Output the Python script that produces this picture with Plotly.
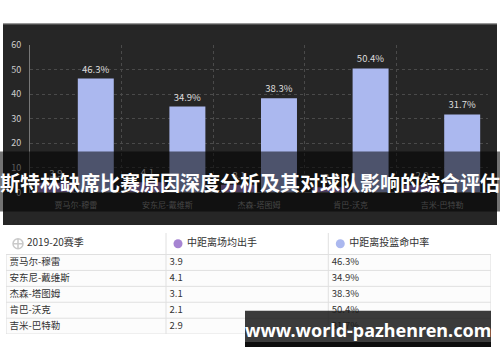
import plotly.graph_objects as go

# ---- data ----
players = ["贾马尔-穆雷", "安东尼-戴维斯", "杰森-塔图姆", "肯巴-沃克", "吉米-巴特勒"]
attempts = [3.9, 4.1, 3.1, 2.1, 2.9]
fg_pct = [46.3, 34.9, 38.3, 50.4, 31.7]
season_label = "2019-20赛季"
series_attempts = "中距离场均出手"
series_pct = "中距离投篮命中率"
y_ticks = [0, 10, 20, 30, 40, 50, 60]
title_text = "斯特林缺席比赛原因深度分析及其对球队影响的综合评估"
watermark = "www.world-pazhenren.com"

W, H = 500, 362
FONT = "Noto Sans CJK SC, Noto Sans, sans-serif"
PURPLE = "#a684d2"
BLUE = "#abb8ef"


def px(x):
    return x / W


def py(y):
    return 1 - y / H


fig = go.Figure()

# ---- bar chart ----
fig.add_trace(go.Bar(
    x=players, y=attempts, name=series_attempts,
    marker=dict(color=PURPLE, line=dict(width=0)),
    text=[str(v) for v in attempts], textposition="outside",
    textfont=dict(size=9.5, color="#dddddd", family=FONT),
    cliponaxis=False, hoverinfo="skip",
    xaxis="x", yaxis="y",
))
fig.add_trace(go.Bar(
    x=players, y=fg_pct, name=series_pct,
    marker=dict(color=BLUE, line=dict(width=0)),
    text=[f"{v}%" for v in fg_pct], textposition="outside",
    textfont=dict(size=9.5, color="#dddddd", family=FONT),
    cliponaxis=False, hoverinfo="skip",
    xaxis="x", yaxis="y",
))

# ---- table (drawn on a second subplot) ----
TW = 485.0
HEADER_H = 22.4
ROW_H = 16.5
TH = HEADER_H + ROW_H * len(players)
col_starts = [0.0, 160.0, 322.3]
row_centers = [HEADER_H + ROW_H * (i + 0.5) for i in range(len(players))]
columns = [players, [str(v) for v in attempts], [f"{v}%" for v in fg_pct]]

for ci, vals in enumerate(columns):
    fig.add_trace(go.Scatter(
        x=[col_starts[ci] + 3.5] * len(vals), y=row_centers,
        mode="text", text=vals, textposition="middle right",
        textfont=dict(size=9.5, color="#333333", family=FONT),
        hoverinfo="skip", xaxis="x2", yaxis="y2", showlegend=False,
    ))

headers = [season_label, series_attempts, series_pct]
icon_colors = ["#c9c9c9", PURPLE, BLUE]
icon_symbols = ["circle-cross-open", "circle", "circle"]
for ci, htxt in enumerate(headers):
    fig.add_trace(go.Scatter(
        x=[col_starts[ci] + 12], y=[HEADER_H / 2], mode="markers",
        marker=dict(size=9 if ci else 10, color=icon_colors[ci], symbol=icon_symbols[ci],
                    line=dict(width=1.5 if ci == 0 else 0, color=icon_colors[ci])),
        hoverinfo="skip", xaxis="x2", yaxis="y2", showlegend=False,
    ))
    fig.add_trace(go.Scatter(
        x=[col_starts[ci] + 21], y=[HEADER_H / 2], mode="text", text=[htxt],
        textposition="middle right",
        textfont=dict(size=10, color="#333333", family=FONT),
        hoverinfo="skip", xaxis="x2", yaxis="y2", showlegend=False,
    ))

shapes = []
# dark chart panel
shapes.append(dict(type="rect", xref="paper", yref="paper", x0=px(3), x1=px(497),
                   y0=py(226), y1=py(17), fillcolor="#262626", line=dict(width=0), layer="below"))
shapes.append(dict(type="line", xref="paper", yref="paper", x0=px(3), x1=px(497),
                   y0=py(17.5), y1=py(17.5), line=dict(color="#9a9a9a", width=1), layer="below"))

# table background and grid
shapes.append(dict(type="rect", xref="x2", yref="y2", x0=0, x1=TW, y0=0, y1=TH,
                   fillcolor="#fcfcfc", line=dict(color="#dcdcdc", width=1), layer="below"))
shapes.append(dict(type="rect", xref="x2", yref="y2", x0=0, x1=TW, y0=0, y1=HEADER_H,
                   fillcolor="#ffffff", line=dict(width=0), layer="below"))
for i in range(len(players)):
    yb = HEADER_H + ROW_H * i
    shapes.append(dict(type="line", xref="x2", yref="y2", x0=0, x1=TW, y0=yb, y1=yb,
                       line=dict(color="#e0e0e0", width=1), layer="below"))
for cx in col_starts[1:]:
    shapes.append(dict(type="line", xref="x2", yref="y2", x0=cx, x1=cx, y0=0, y1=TH,
                       line=dict(color="#e0e0e0", width=1), layer="below"))

# title banner overlay
shapes.append(dict(type="rect", xref="paper", yref="paper", x0=0, x1=1,
                   y0=py(212), y1=py(150), fillcolor="rgba(0,0,0,0.55)",
                   line=dict(width=0), layer="above"))
# watermark box
shapes.append(dict(type="rect", xref="paper", yref="paper", x0=px(245), x1=px(491),
                   y0=py(346.7), y1=py(315), fillcolor="rgba(25,25,25,0.85)",
                   line=dict(width=0), layer="above"))
shapes.append(dict(type="rect", xref="paper", yref="paper", x0=px(245), x1=px(491),
                   y0=py(352.7), y1=py(346.7), fillcolor="#0d0d0d",
                   line=dict(width=0), layer="above"))

annotations = [
    dict(text=f"<b>{title_text}</b>", xref="paper", yref="paper", x=0.5, y=py(182),
         xanchor="center", yanchor="middle", showarrow=False,
         font=dict(size=20, color="#ffffff", family=FONT)),
    dict(text=f"<b>{watermark}</b>", xref="paper", yref="paper", x=px(368), y=py(335),
         xanchor="center", yanchor="middle", showarrow=False,
         font=dict(size=18, color="#ffffff", family="Noto Sans, Open Sans, sans-serif")),
]

fig.update_layout(
    width=W, height=H, autosize=False,
    margin=dict(l=0, r=0, t=0, b=0, pad=0),
    paper_bgcolor="#ffffff", plot_bgcolor="rgba(0,0,0,0)",
    showlegend=False, barmode="group", bargap=0.127, bargroupgap=0.1,
    font=dict(family=FONT),
    xaxis=dict(domain=[px(30), px(488)], type="category", tickson="boundaries",
               showgrid=True, gridcolor="#4a4a4a", griddash="3px,3px", gridwidth=1,
               showline=True, linecolor="#666666", linewidth=1,
               ticks="outside", ticklen=6, tickcolor="rgba(0,0,0,0)",
               ticklabelstandoff=5,
               tickfont=dict(size=8, color="#9a9a9a", family=FONT),
               fixedrange=True, anchor="y"),
    yaxis=dict(domain=[py(192.3), py(39.3)], range=[0, 60], tickvals=y_ticks,
               showgrid=True, gridcolor="#4a4a4a", griddash="3px,3px", gridwidth=1,
               zeroline=False, showline=True, linecolor="#777777", linewidth=1,
               ticks="outside", ticklen=6, tickcolor="rgba(0,0,0,0)",
               tickfont=dict(size=9, color="#cccccc", family=FONT),
               fixedrange=True, anchor="x"),
    xaxis2=dict(domain=[px(6), px(491)], range=[0, TW], visible=False,
                fixedrange=True, anchor="y2"),
    yaxis2=dict(domain=[py(339.3), py(234.3)], range=[TH, 0], visible=False,
                fixedrange=True, anchor="x2"),
    shapes=shapes, annotations=annotations,
)

fig.write_html("out.html")
